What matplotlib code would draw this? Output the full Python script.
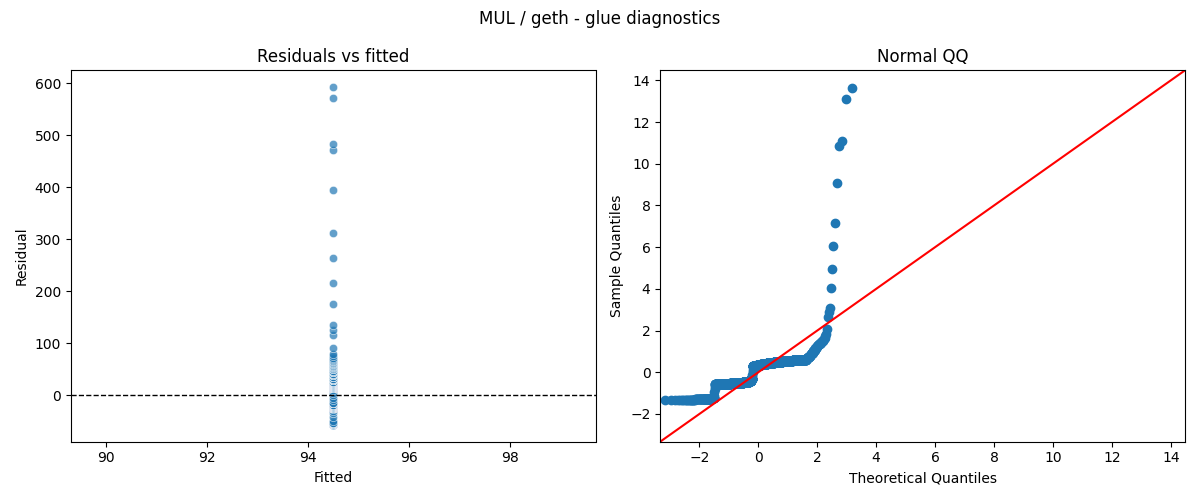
import numpy as np
import matplotlib
matplotlib.use('Agg')
import matplotlib.pyplot as plt
import seaborn as sns
from statistics import NormalDist

# fitted value of the glue model (one constant prediction)
FITTED_VALUE = 94.5

# residual levels, with how many rows sit at each level
RESID_LEVELS = [
    -57, -56, -55, -54,
    -50, -42, -35, -30, -27,
    -25, -24, -23, -22, -21, -20, -18, -15,
    -10, -5, 0, 5, 10,
    13, 15, 17, 19, 21, 23, 25,
    29, 32, 35, 38, 41, 44, 47, 50,
    53, 54, 55, 56, 57, 58, 59, 60, 61, 62, 63, 65, 66,
    68, 70, 72, 76, 80, 90,
    115, 126, 134, 175, 216, 264, 312, 395, 471, 483, 571, 592,
]
RESID_COUNTS = [
    20, 30, 22, 15,
    1, 1, 1, 1, 1,
    50, 80, 90, 80, 60, 40, 30, 25,
    1, 1, 1, 1, 1,
    70, 80, 100, 110, 120, 110, 92,
    7, 5, 5, 4, 4, 4, 3, 3,
    1, 1, 1, 1, 1, 1, 1, 1, 1, 1, 1, 1, 1,
    1, 1, 1, 1, 1, 1,
    1, 1, 1, 1, 1, 1, 1, 1, 1, 1, 1, 1,
]

QQ_LIMITS = (-3.33, 14.48)


def main():
    resid = np.repeat(np.array(RESID_LEVELS, dtype=float), RESID_COUNTS)
    fitted = np.full_like(resid, FITTED_VALUE)

    fig, axes = plt.subplots(1, 2, figsize=(12, 5), dpi=100)

    # residuals vs fitted
    ax = axes[0]
    sns.scatterplot(x=fitted, y=resid, ax=ax, alpha=0.7)
    ax.axhline(0, color='black', linestyle='--', linewidth=1)
    ax.set_title('Residuals vs fitted')
    ax.set_xlabel('Fitted')
    ax.set_ylabel('Residual')

    # normal qq of the standardised residuals
    ax = axes[1]
    sample = np.sort(resid / resid.std())
    n = len(sample)
    nd = NormalDist()
    theo = np.array([nd.inv_cdf(i / (n + 1)) for i in range(1, n + 1)])
    ax.plot(theo, sample, marker='o', linestyle='none', color='C0')
    ax.set_xlim(*QQ_LIMITS)
    ax.set_ylim(*QQ_LIMITS)
    ax.plot(QQ_LIMITS, QQ_LIMITS, 'r-')
    ax.set_title('Normal QQ')
    ax.set_xlabel('Theoretical Quantiles')
    ax.set_ylabel('Sample Quantiles')

    fig.suptitle('MUL / geth - glue diagnostics')
    fig.tight_layout()
    fig.savefig('out.png')
    plt.close(fig)


if __name__ == '__main__':
    main()
